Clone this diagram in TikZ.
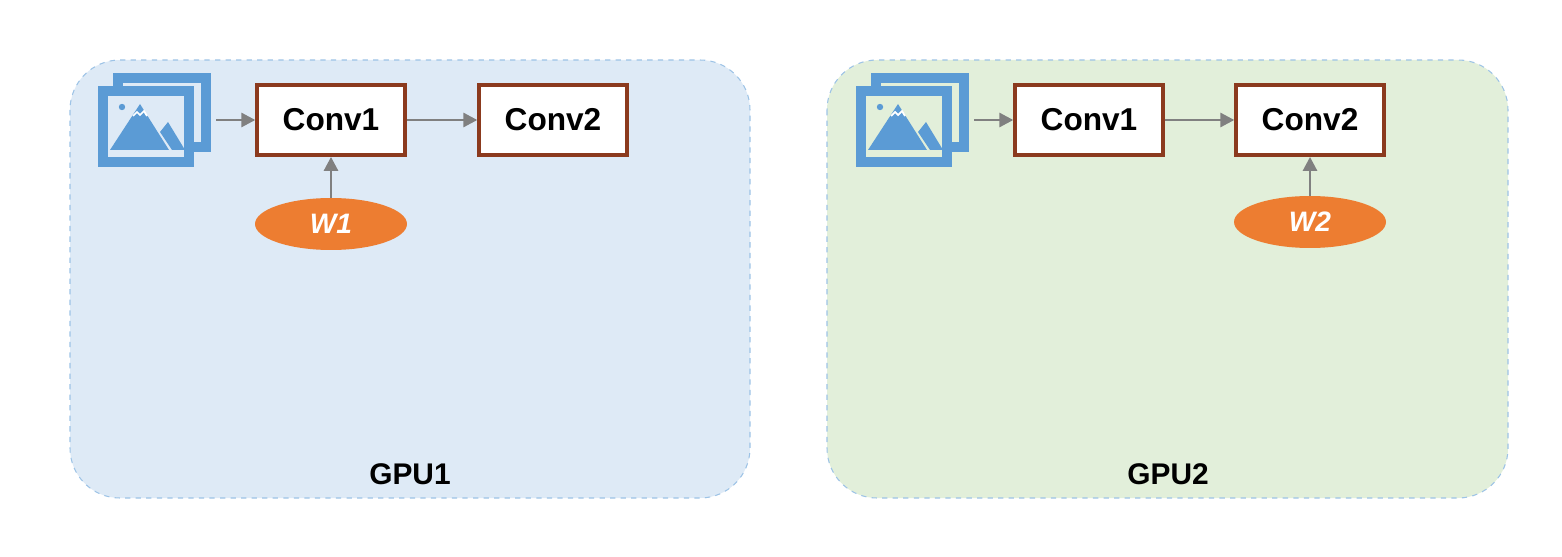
\documentclass[tikz,border=0pt]{standalone}
\usepackage{fontspec}
\setmainfont{Liberation Sans}
\usetikzlibrary{shapes.geometric,arrows.meta}
\definecolor{panelblue}{HTML}{DEEAF6}
\definecolor{panelgreen}{HTML}{E2EFDA}
\definecolor{panelline}{HTML}{9DC3E6}
\definecolor{convline}{HTML}{8B3A1E}
\definecolor{wfill}{HTML}{ED7D31}
\definecolor{iconblue}{HTML}{5B9BD5}
\tikzset{
  panel/.style={draw=panelline, dashed, line width=0.6pt, rounded corners=1cm},
  conv/.style={draw=convline, fill=white, line width=2.2pt, minimum width=2.95cm, minimum height=1.4cm, font=\fontsize{18}{20}\selectfont\bfseries},
  weight/.style={ellipse, fill=wfill, minimum width=3.04cm, minimum height=1.04cm, text=white, font=\fontsize{16}{18}\selectfont\bfseries\itshape},
  flow/.style={draw=gray, line width=1.6pt, -{Triangle[length=8pt,width=8pt]}},
  gpulabel/.style={font=\fontsize{17}{20}\selectfont\bfseries}
}
% picture icon, #1 = back colour, #2 = x offset
\newcommand{\imgicon}[2]{
  \begin{scope}[xshift=#2*0.02cm]
    \draw[iconblue, line width=6pt] (118,78) rectangle (206,147);
    \draw[iconblue, line width=6pt, fill=#1] (103,91) rectangle (189,162);
    \fill[iconblue] (110,150) -- (140,104) -- (169,150) -- cycle;
    \fill[iconblue] (160,132) -- (168,122) -- (185,150) -- (172,150) -- cycle;
    \fill[iconblue] (122,107) circle (3.2);
    \draw[white, line width=1pt] (133,116) -- (137,112) -- (140,115) -- (144,111) -- (147,116);
  \end{scope}
}
\begin{document}
\begin{tikzpicture}[x=0.02cm, y=-0.02cm]
  \useasboundingbox (0,0) rectangle (1562,557);

  % GPU1
  \draw[panel, fill=panelblue] (70,60) rectangle (750,498);
  \imgicon{panelblue}{0}
  \coordinate (img1) at (216,120);
  \node[conv] (conv1a) at (331,120) {Conv1};
  \node[conv] (conv2a) at (553,120) {Conv2};
  \node[weight] (w1) at (331,224) {W1};
  \node[gpulabel] (gpu1) at (410,474) {GPU1};
  \draw[flow] (img1) -- (conv1a);
  \draw[flow] (conv1a) -- (conv2a);
  \draw[flow] (w1) -- (conv1a);

  % GPU2
  \draw[panel, fill=panelgreen] (827,60) rectangle (1508,498);
  \imgicon{panelgreen}{758}
  \coordinate (img2) at (974,120);
  \node[conv] (conv1b) at (1089,120) {Conv1};
  \node[conv] (conv2b) at (1310,120) {Conv2};
  \node[weight] (w2) at (1310,222) {W2};
  \node[gpulabel] (gpu2) at (1168,474) {GPU2};
  \draw[flow] (img2) -- (conv1b);
  \draw[flow] (conv1b) -- (conv2b);
  \draw[flow] (w2) -- (conv2b);
\end{tikzpicture}
\end{document}
